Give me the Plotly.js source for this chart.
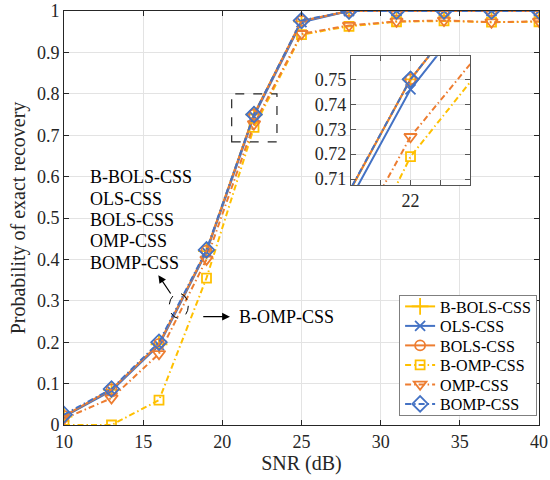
<!DOCTYPE html>
<html>
<head>
<meta charset="utf-8">
<script src="https://cdn.plot.ly/plotly-3.0.1.min.js"></script>
<style>html,body{margin:0;padding:0;background:#fff;}#chart{width:550px;height:480px;}</style>
</head>
<body>
<div id="chart"></div>
<script>
// ---- data ----
const snr = [10, 13, 16, 19, 22, 25, 28, 31, 34, 37, 40];
const bBolsCss = [0.020, 0.085, 0.195, 0.420, 0.750, 0.975, 1, 1, 1, 1, 1];
const olsCss   = [0.020, 0.083, 0.193, 0.418, 0.746, 0.973, 1, 1, 1, 1, 1];
const bolsCss  = [0.022, 0.086, 0.196, 0.421, 0.750, 0.976, 1, 1, 1, 1, 1];
const bOmpCss  = [0.000, 0.000, 0.060, 0.355, 0.719, 0.943, 0.963, 0.974, 0.976, 0.973, 0.974];
const ompCss   = [0.015, 0.065, 0.172, 0.400, 0.727, 0.945, 0.965, 0.975, 0.977, 0.973, 0.975];
const bompCss  = [0.025, 0.087, 0.200, 0.423, 0.750, 0.977, 1, 1, 1, 1, 1];

const seriesNames = ['B-BOLS-CSS', 'OLS-CSS', 'BOLS-CSS', 'B-OMP-CSS', 'OMP-CSS', 'BOMP-CSS'];
const seriesValues = [bBolsCss, olsCss, bolsCss, bOmpCss, ompCss, bompCss];

const xTicks = [10, 15, 20, 25, 30, 35, 40];
const yTicks = [0, 0.1, 0.2, 0.3, 0.4, 0.5, 0.6, 0.7, 0.8, 0.9, 1];
const yTickText = ['0', '0.1', '0.2', '0.3', '0.4', '0.5', '0.6', '0.7', '0.8', '0.9', '1'];
const insetXTicks = [21.8, 22, 22.2];
const insetXText = ['', '22', ''];
const insetYTicks = [0.71, 0.72, 0.73, 0.74, 0.75];
const insetYText = ['0.71', '0.72', '0.73', '0.74', '0.75'];

const labelLines = ['B-BOLS-CSS', 'OLS-CSS', 'BOLS-CSS', 'OMP-CSS', 'BOMP-CSS'];
const sideLabel = 'B-OMP-CSS';

// ---- styles ----
const BLUE = '#4472C4', ORANGE = '#ED7D31', GOLD = '#FFC000';
const styles = [
  {color: GOLD,   dash: 'solid',   symbol: 'cross-thin-open',    size: 12},
  {color: BLUE,   dash: 'solid',   symbol: 'x-thin-open',        size: 10},
  {color: ORANGE, dash: 'solid',   symbol: 'circle-open',        size: 10},
  {color: GOLD,   dash: '6px,3px,1.5px,3px', symbol: 'square-open', size: 9},
  {color: ORANGE, dash: '6px,3px,1.5px,3px', symbol: 'triangle-down-open', size: 11},
  {color: BLUE,   dash: '6px,3px,1.5px,3px', symbol: 'diamond-open', size: 12}
];

const FONT = "'Liberation Serif', 'Times New Roman', serif";
const TXT = '#262626';

const traces = [];
['x', 'x2'].forEach((xa, k) => {
  seriesNames.forEach((nm, i) => {
    const s = styles[i];
    traces.push({
      x: snr, y: seriesValues[i],
      xaxis: xa, yaxis: k === 0 ? 'y' : 'y2',
      type: 'scatter', mode: 'lines+markers',
      name: nm, showlegend: k === 0,
      line: {color: s.color, width: 2, dash: s.dash},
      marker: {symbol: s.symbol, size: s.size, color: s.color, line: {color: s.color, width: 1.8}}
    });
  });
});

function ann(x, y, text, extra) {
  return Object.assign({x: x, y: y, xref: 'x', yref: 'y', text: text, showarrow: false,
    xanchor: 'left', yanchor: 'middle', font: {family: FONT, size: 18, color: '#000'}}, extra || {});
}

const annotations = [];
const labelY = [0.600, 0.545, 0.495, 0.445, 0.391];
labelLines.forEach((t, i) => annotations.push(ann(11.53, labelY[i], t)));
annotations.push(ann(20.91, 0.2616, sideLabel));
annotations.push({x: 15.96, y: 0.362, ax: 16.80, ay: 0.314, xref: 'x', yref: 'y', axref: 'x', ayref: 'y',
  text: '', showarrow: true, arrowhead: 2, arrowsize: 1.3, arrowwidth: 1.2, arrowcolor: '#000'});
annotations.push({x: 20.48, y: 0.2616, ax: 18.70, ay: 0.2616, xref: 'x', yref: 'y', axref: 'x', ayref: 'y',
  text: '', showarrow: true, arrowhead: 2, arrowsize: 1.3, arrowwidth: 1.2, arrowcolor: '#000'});

const shapes = [
  {type: 'rect', xref: 'x', yref: 'y', x0: 20.59, x1: 23.45, y0: 0.684, y1: 0.80,
   line: {color: '#262626', width: 1.2, dash: 'dash'}},
  {type: 'circle', xref: 'x', yref: 'y', x0: 16.65, x1: 17.85, y0: 0.2577, y1: 0.318,
   line: {color: '#000', width: 1, dash: 'dash'}}
];

const axBase = {
  showline: true, linecolor: TXT, linewidth: 1, mirror: 'ticks',
  ticks: 'inside', ticklen: 5, tickcolor: TXT, tickwidth: 1,
  showgrid: true, gridcolor: '#e3e3e3', gridwidth: 1, zeroline: false,
  tickfont: {family: FONT, size: 18, color: TXT}, fixedrange: true
};

const layout = {
  width: 550, height: 480,
  margin: {l: 64, r: 11, t: 11, b: 55},
  paper_bgcolor: '#fff', plot_bgcolor: '#fff',
  font: {family: FONT, color: TXT},
  xaxis: Object.assign({}, axBase, {range: [10, 40], tickmode: 'array', tickvals: xTicks,
    title: {text: 'SNR (dB)', font: {family: FONT, size: 20, color: TXT}, standoff: 2}}),
  yaxis: Object.assign({}, axBase, {range: [0, 1], tickmode: 'array', tickvals: yTicks, ticktext: yTickText,
    title: {text: 'Probability of exact recovery', font: {family: FONT, size: 20, color: TXT}, standoff: 5}}),
  xaxis2: Object.assign({}, axBase, {domain: [0.604, 0.855], anchor: 'y2', range: [21.6, 22.4],
    tickmode: 'array', tickvals: insetXTicks, ticktext: insetXText, linecolor: '#555', tickcolor: '#555'}),
  yaxis2: Object.assign({}, axBase, {domain: [0.580, 0.891], anchor: 'x2', range: [0.7077, 0.7593],
    tickmode: 'array', tickvals: insetYTicks, ticktext: insetYText, linecolor: '#555', tickcolor: '#555'}),
  legend: {x: 0.996, xanchor: 'right', y: 0.022, yanchor: 'bottom',
    bgcolor: '#fff', bordercolor: '#7f7f7f', borderwidth: 1,
    font: {family: FONT, size: 16, color: '#000'}, tracegroupgap: 0, itemwidth: 30},
  annotations: annotations,
  shapes: shapes,
  showlegend: true
};

Plotly.newPlot('chart', traces, layout, {displayModeBar: false, staticPlot: true}).then(() => {
  // tighten legend row spacing to match the compact reference legend
  const leg = document.querySelector('.legend');
  if (!leg) return;
  const bg = leg.querySelector('rect.bg');
  const items = Array.from(leg.querySelectorAll('g.traces'));
  const parse = el => {
    const m = /translate\(\s*([-\d.eE]+)[ ,]+([-\d.eE]+)/.exec(el.getAttribute('transform') || '');
    return m ? [parseFloat(m[1]), parseFloat(m[2])] : [0, 0];
  };
  const H = parseFloat(bg.getAttribute('height'));
  const sp = 19.5, top = 11.5, bot = 11;
  const newH = top + sp * (items.length - 1) + bot;
  items.forEach((it, i) => {
    const t = parse(it);
    it.setAttribute('transform', 'translate(' + t[0] + ',' + (top + i * sp) + ')');
  });
  bg.setAttribute('height', newH);
  const lt = parse(leg);
  leg.setAttribute('transform', 'translate(' + lt[0] + ',' + (lt[1] + (H - newH)) + ')');
});
</script>
</body>
</html>
